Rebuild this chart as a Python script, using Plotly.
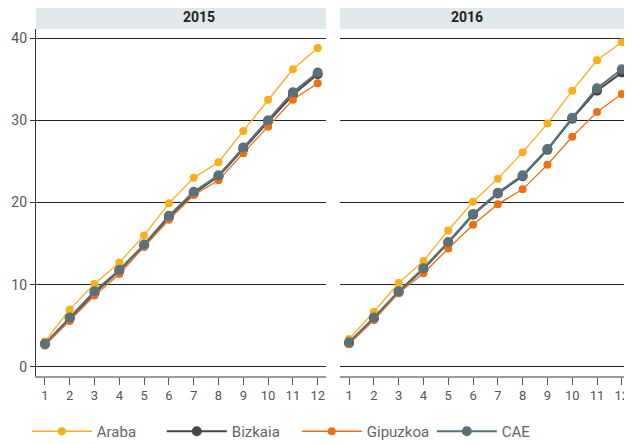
import plotly.graph_objects as go

months = list(range(1, 13))
years = ["2015", "2016"]
series_names = ["Araba", "Bizkaia", "Gipuzkoa", "CAE"]

araba_2015 = [3.1, 7.0, 10.1, 12.7, 16.0, 19.9, 23.0, 24.9, 28.7, 32.5, 36.2, 38.8]
bizkaia_2015 = [2.8, 5.9, 9.0, 11.7, 14.8, 18.2, 21.1, 23.2, 26.5, 29.9, 33.1, 35.6]
gipuzkoa_2015 = [2.6, 5.6, 8.7, 11.3, 14.6, 17.9, 20.9, 22.7, 26.0, 29.2, 32.5, 34.5]
cae_2015 = [2.8, 6.0, 9.2, 11.8, 14.9, 18.4, 21.3, 23.3, 26.7, 30.0, 33.4, 35.8]

araba_2016 = [3.4, 6.7, 10.2, 12.9, 16.6, 20.1, 22.9, 26.1, 29.6, 33.6, 37.3, 39.5]
bizkaia_2016 = [2.9, 5.9, 9.1, 11.9, 15.1, 18.5, 21.1, 23.2, 26.4, 30.2, 33.6, 35.8]
gipuzkoa_2016 = [2.8, 5.7, 9.0, 11.4, 14.4, 17.3, 19.8, 21.6, 24.6, 28.0, 31.0, 33.2]
cae_2016 = [3.0, 6.0, 9.2, 12.0, 15.2, 18.6, 21.2, 23.3, 26.5, 30.3, 33.9, 36.2]

data = {
    "2015": [araba_2015, bizkaia_2015, gipuzkoa_2015, cae_2015],
    "2016": [araba_2016, bizkaia_2016, gipuzkoa_2016, cae_2016],
}

colors = ["#F9AE1C", "#4A4446", "#EE6F12", "#5A717A"]
line_w = [1.3, 2.0, 1.3, 2.0]
marker_s = [8, 10, 8, 10]

FONT = "Roboto, sans-serif"
TXT = "#555555"

fig = go.Figure()
for pi, yr in enumerate(years):
    xa = "x" if pi == 0 else "x2"
    ya = "y" if pi == 0 else "y2"
    for si, name in enumerate(series_names):
        fig.add_trace(go.Scatter(
            x=months, y=data[yr][si], mode="lines+markers", name=name,
            line=dict(color=colors[si], width=line_w[si]),
            marker=dict(color=colors[si], size=marker_s[si]),
            xaxis=xa, yaxis=ya, showlegend=(pi == 0), legendgroup=name,
        ))

xcommon = dict(range=[0.64, 12.33], tickmode="array", tickvals=months,
               ticktext=[str(m) for m in months], showgrid=False, zeroline=False,
               showline=True, linecolor="#9a9a9a", linewidth=1.5,
               ticks="outside", ticklen=7, tickcolor="#555555", tickwidth=1,
               automargin=False,
               tickfont=dict(family=FONT, size=13, color=TXT))
ycommon = dict(range=[-1.1, 41.1], tickvals=[0, 10, 20, 30, 40],
               showgrid=True, gridcolor="#222222", gridwidth=1.2, zeroline=False,
               automargin=False,
               tickfont=dict(family=FONT, size=14, color=TXT))

# page body has an 8px default margin: figure is 624x436 placed at (8, 8)
fig.update_layout(
    width=624, height=436,
    margin=dict(l=28, r=2, t=21, b=68, autoexpand=False),
    paper_bgcolor="white", plot_bgcolor="white",
    xaxis=dict(domain=[0, 0.488], anchor="y", **xcommon),
    xaxis2=dict(domain=[0.512, 1], anchor="y2", **xcommon),
    yaxis=dict(domain=[0, 1], anchor="x", showline=True, linecolor="#333333", linewidth=1.2,
               ticks="outside", ticklen=5, tickcolor="#333333", **ycommon),
    yaxis2=dict(domain=[0, 1], anchor="x2", showline=False, showticklabels=False, **ycommon),
    legend=dict(orientation="h", x=-0.0155, xanchor="left", y=-0.16, yanchor="middle",
                font=dict(family=FONT, size=15, color="#6a6264"), itemwidth=60,
                entrywidth=60, entrywidthmode="pixels"),
    showlegend=True,
)

strip_h = 23 / 347
for dom, yr in [([0, 0.488], "2015"), ([0.512, 1], "2016")]:
    fig.add_shape(type="rect", xref="paper", yref="paper", x0=dom[0], x1=dom[1],
                  y0=1, y1=1 + strip_h, fillcolor="#E1E8EB", line=dict(width=0), layer="below")
    fig.add_annotation(xref="paper", yref="paper", x=(dom[0] + dom[1]) / 2, y=1 + strip_h / 2,
                       text="<b>%s</b>" % yr, showarrow=False, yanchor="middle",
                       font=dict(family=FONT, size=14, color="#222222"))

fig.write_html("out.html")
